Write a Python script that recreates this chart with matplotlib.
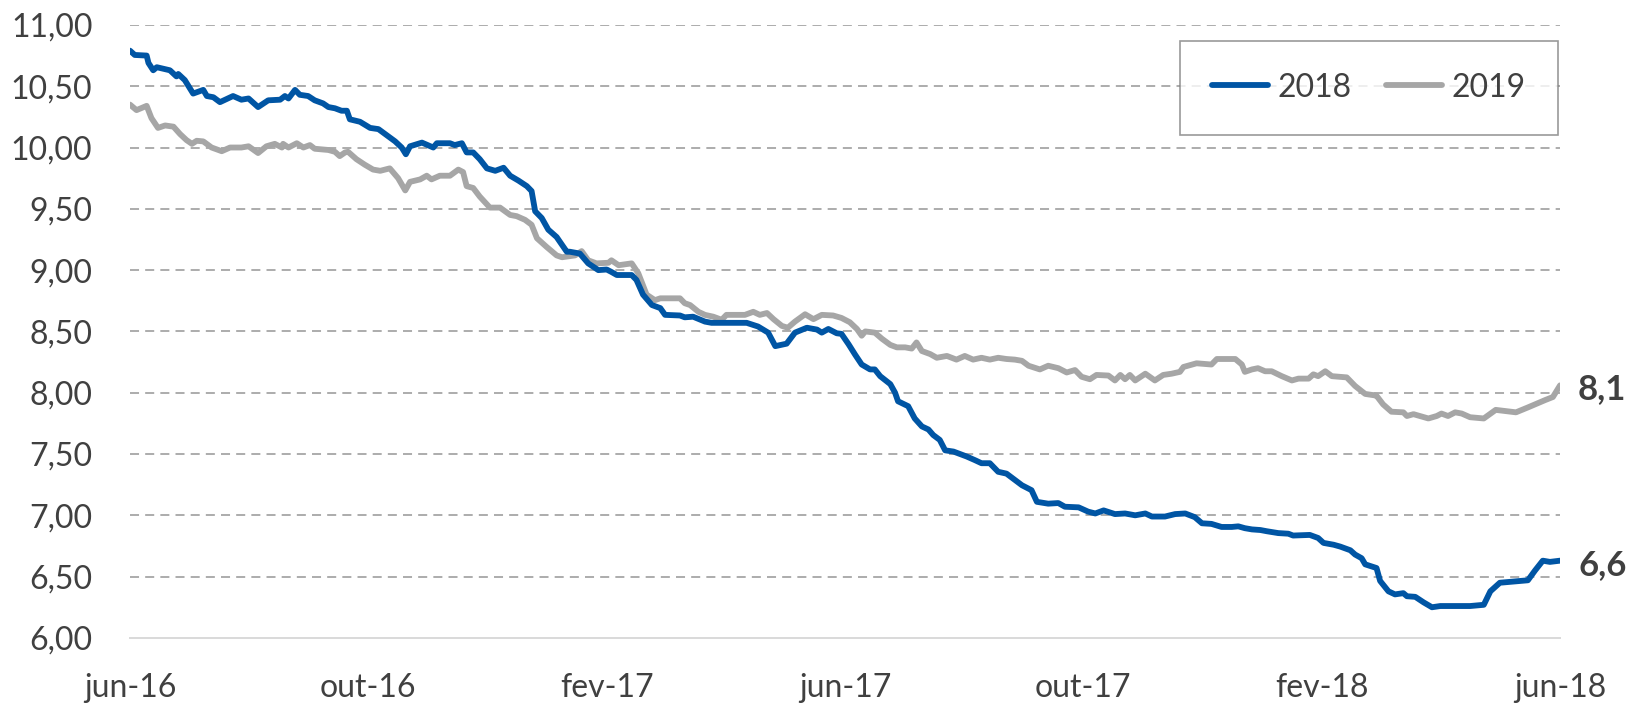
import matplotlib
matplotlib.use("Agg")
import matplotlib.pyplot as plt
from matplotlib.ticker import FuncFormatter

# months since jun-16 and values
months_2018 = [0.00, 0.08, 0.28, 0.31, 0.39, 0.45, 0.67, 0.78, 0.81, 0.92, 1.06, 1.23, 1.29, 1.40, 1.51,
               1.73, 1.87, 1.99, 2.15, 2.32, 2.52, 2.60, 2.66, 2.77, 2.85, 2.99, 3.10, 3.24, 3.33, 3.44,
               3.55, 3.64, 3.69, 3.86, 4.03, 4.17, 4.31, 4.45, 4.56, 4.63, 4.70, 4.90, 5.09, 5.15, 5.37,
               5.45, 5.57, 5.65, 5.76, 5.87, 5.99, 6.13, 6.27, 6.38, 6.52, 6.66, 6.74, 6.80, 6.91, 7.02,
               7.16, 7.33, 7.38, 7.55, 7.69, 7.86, 8.00, 8.08, 8.17, 8.42, 8.50, 8.61, 8.76, 8.90, 8.98,
               9.23, 9.31, 9.45, 9.65, 9.76, 10.35, 10.54, 10.71, 10.83, 11.02, 11.16, 11.36, 11.53, 11.61,
               11.72, 11.86, 11.94, 12.06, 12.17, 12.28, 12.42, 12.50, 12.59, 12.76, 12.84, 12.89, 13.06,
               13.17, 13.29, 13.40, 13.48, 13.59, 13.68, 13.82, 14.04, 14.18, 14.29, 14.43, 14.57, 14.71,
               14.82, 14.97, 15.13, 15.22, 15.41, 15.58, 15.69, 15.92, 16.08, 16.20, 16.34, 16.53, 16.70,
               16.87, 17.04, 17.15, 17.37, 17.54, 17.71, 17.87, 17.99, 18.15, 18.32, 18.49, 18.60, 18.71,
               18.83, 18.97, 19.08, 19.27, 19.44, 19.52, 19.80, 19.94, 20.03, 20.20, 20.31, 20.48, 20.56,
               20.67, 20.73, 20.92, 20.98, 21.12, 21.23, 21.37, 21.43, 21.57, 21.71, 21.85, 21.99, 22.49,
               22.72, 22.83, 22.99, 23.46, 23.58, 23.71, 23.83, 24.00]
values_2018 = [10.79, 10.755, 10.75, 10.69, 10.63, 10.655, 10.63, 10.58, 10.60, 10.55, 10.44, 10.47, 10.42,
               10.41, 10.37, 10.42, 10.39, 10.40, 10.33, 10.385, 10.39, 10.42, 10.40, 10.47, 10.43, 10.42,
               10.385, 10.36, 10.33, 10.32, 10.30, 10.30, 10.23, 10.21, 10.16, 10.15, 10.10, 10.05, 10.00,
               9.945, 10.01, 10.04, 10.00, 10.035, 10.035, 10.02, 10.035, 9.96, 9.96, 9.905, 9.83, 9.81,
               9.835, 9.77, 9.73, 9.685, 9.645, 9.48, 9.425, 9.33, 9.27, 9.15, 9.15, 9.135, 9.055, 9.00,
               9.005, 8.985, 8.96, 8.96, 8.92, 8.80, 8.715, 8.69, 8.635, 8.63, 8.615, 8.62, 8.58, 8.57,
               8.57, 8.54, 8.49, 8.38, 8.40, 8.49, 8.53, 8.515, 8.49, 8.52, 8.485, 8.48, 8.395, 8.31, 8.23,
               8.19, 8.19, 8.135, 8.07, 8.00, 7.93, 7.89, 7.79, 7.725, 7.70, 7.655, 7.615, 7.53, 7.52, 7.48,
               7.45, 7.425, 7.425, 7.355, 7.34, 7.30, 7.245, 7.205, 7.11, 7.095, 7.10, 7.07, 7.065, 7.03,
               7.015, 7.04, 7.01, 7.015, 7.00, 7.015, 6.99, 6.99, 7.01, 7.015, 6.985, 6.935, 6.93, 6.905,
               6.905, 6.91, 6.895, 6.885, 6.88, 6.87, 6.855, 6.85, 6.835, 6.84, 6.815, 6.775, 6.76, 6.745,
               6.715, 6.68, 6.65, 6.60, 6.57, 6.465, 6.38, 6.355, 6.365, 6.34, 6.335, 6.29, 6.25, 6.26,
               6.26, 6.27, 6.38, 6.45, 6.47, 6.55, 6.63, 6.62, 6.63]

months_2019 = [0.00, 0.11, 0.28, 0.36, 0.47, 0.59, 0.73, 0.84, 0.95, 1.04, 1.12, 1.23, 1.37, 1.54, 1.68,
               1.87, 1.99, 2.15, 2.29, 2.43, 2.55, 2.57, 2.66, 2.80, 2.91, 3.02, 3.10, 3.33, 3.44, 3.52,
               3.61, 3.66, 3.80, 3.94, 4.08, 4.20, 4.36, 4.50, 4.62, 4.70, 4.87, 4.98, 5.06, 5.20, 5.37,
               5.51, 5.59, 5.65, 5.76, 5.87, 6.04, 6.21, 6.38, 6.49, 6.63, 6.74, 6.83, 6.99, 7.16, 7.25,
               7.47, 7.58, 7.69, 7.83, 8.03, 8.08, 8.20, 8.42, 8.53, 8.67, 8.81, 8.90, 9.23, 9.31, 9.40,
               9.54, 9.65, 9.79, 9.93, 10.01, 10.32, 10.46, 10.57, 10.69, 10.80, 10.94, 11.04, 11.16, 11.33,
               11.47, 11.61, 11.80, 11.94, 12.08, 12.20, 12.28, 12.34, 12.50, 12.62, 12.76, 12.87, 13.01,
               13.12, 13.20, 13.29, 13.43, 13.54, 13.71, 13.87, 14.01, 14.15, 14.29, 14.43, 14.57, 14.71,
               14.85, 14.97, 15.08, 15.27, 15.41, 15.58, 15.72, 15.86, 15.97, 16.11, 16.22, 16.42, 16.53,
               16.62, 16.70, 16.78, 16.87, 17.04, 17.20, 17.34, 17.48, 17.62, 17.68, 17.90, 18.15, 18.24,
               18.55, 18.66, 18.71, 18.83, 18.93, 19.05, 19.16, 19.33, 19.50, 19.61, 19.78, 19.86, 19.94,
               20.06, 20.17, 20.42, 20.56, 20.73, 20.87, 20.92, 21.03, 21.17, 21.37, 21.43, 21.54, 21.65,
               21.79, 21.93, 22.01, 22.12, 22.24, 22.35, 22.49, 22.72, 22.92, 23.26, 23.46, 23.75, 23.88,
               24.00]
values_2019 = [10.35, 10.305, 10.34, 10.24, 10.16, 10.18, 10.17, 10.11, 10.06, 10.03, 10.055, 10.05, 10.00,
               9.97, 10.00, 10.00, 10.01, 9.955, 10.01, 10.03, 10.00, 10.03, 10.00, 10.035, 10.00, 10.02,
               9.99, 9.98, 9.965, 9.93, 9.96, 9.965, 9.905, 9.86, 9.82, 9.81, 9.83, 9.75, 9.65, 9.72, 9.74,
               9.77, 9.74, 9.77, 9.77, 9.82, 9.80, 9.685, 9.67, 9.60, 9.51, 9.51, 9.45, 9.44, 9.41, 9.37,
               9.26, 9.19, 9.12, 9.105, 9.12, 9.155, 9.08, 9.055, 9.06, 9.08, 9.04, 9.055, 8.975, 8.80,
               8.755, 8.77, 8.77, 8.73, 8.715, 8.66, 8.635, 8.62, 8.595, 8.635, 8.635, 8.66, 8.635, 8.65,
               8.60, 8.545, 8.53, 8.58, 8.64, 8.60, 8.635, 8.63, 8.61, 8.575, 8.52, 8.465, 8.50, 8.49, 8.44,
               8.39, 8.37, 8.37, 8.36, 8.41, 8.34, 8.315, 8.285, 8.30, 8.27, 8.30, 8.27, 8.285, 8.27, 8.285,
               8.275, 8.27, 8.26, 8.22, 8.19, 8.22, 8.20, 8.165, 8.185, 8.13, 8.11, 8.145, 8.14, 8.10, 8.145,
               8.11, 8.145, 8.10, 8.155, 8.10, 8.145, 8.155, 8.17, 8.21, 8.24, 8.23, 8.275, 8.275, 8.23,
               8.17, 8.19, 8.20, 8.175, 8.175, 8.135, 8.10, 8.115, 8.115, 8.15, 8.135, 8.175, 8.135, 8.125,
               8.055, 7.99, 7.98, 7.975, 7.905, 7.845, 7.84, 7.81, 7.825, 7.81, 7.79, 7.81, 7.83, 7.81,
               7.84, 7.83, 7.80, 7.79, 7.86, 7.84, 7.88, 7.94, 7.965, 8.06]

tick_months = [0, 4, 8, 12, 16, 20, 24]
tick_labels = ["jun-16", "out-16", "fev-17", "jun-17", "out-17", "fev-18", "jun-18"]

BLUE = "#0055a4"
GRAY = "#a6a6a6"
TEXT = "#404040"

plt.rcParams["font.family"] = ["Lato", "DejaVu Sans"]

fig = plt.figure(figsize=(16.37, 7.08), dpi=100)
ax = fig.add_axes([0.0794, 0.099, 0.8736, 0.8658])

ax.plot(months_2018, values_2018, color=BLUE, lw=4.2, solid_joinstyle="round",
        solid_capstyle="round", label="2018", zorder=3)
ax.plot(months_2019, values_2019, color=GRAY, lw=4.2, solid_joinstyle="round",
        solid_capstyle="round", label="2019", zorder=2)

ax.set_xlim(0, 24)
ax.set_ylim(6, 11)
ax.set_yticks([6 + 0.5 * i for i in range(11)])
ax.yaxis.set_major_formatter(FuncFormatter(lambda v, p: ("%.2f" % v).replace(".", ",")))
ax.set_xticks(tick_months)
ax.set_xticklabels(tick_labels)

# dashed gridlines, no frame except a light bottom axis
for v in ax.get_yticks()[1:]:
    ax.axhline(v, color=GRAY, lw=1.3, dashes=(5, 3.4), zorder=1)
for s in ["top", "right", "left"]:
    ax.spines[s].set_visible(False)
ax.spines["bottom"].set_color("#d9d9d9")
ax.spines["bottom"].set_linewidth(1.4)
ax.tick_params(axis="both", length=0, labelsize=23, labelcolor=TEXT)
ax.tick_params(axis="y", pad=27)
ax.tick_params(axis="x", pad=25)

# last-value labels
for xs, ys in [(months_2019, values_2019), (months_2018, values_2018)]:
    ax.annotate(("%.1f" % ys[-1]).replace(".", ","), (xs[-1], ys[-1]), xytext=(13, -3),
                textcoords="offset points", ha="left", va="center", fontsize=25,
                fontweight="bold", color=TEXT, annotation_clip=False)

leg = ax.legend(loc="upper right", bbox_to_anchor=(1558 / 1637, 1 - 40.7 / 708),
                bbox_transform=fig.transFigure, ncol=2, fontsize=23, frameon=True,
                fancybox=False, borderaxespad=0, borderpad=1.0, handlelength=1.75,
                handletextpad=0.3, columnspacing=1.1)
leg.get_frame().set_edgecolor("#808080")
leg.get_frame().set_linewidth(1.2)
for t in leg.get_texts():
    t.set_color(TEXT)

fig.savefig("out.png", dpi=100)
